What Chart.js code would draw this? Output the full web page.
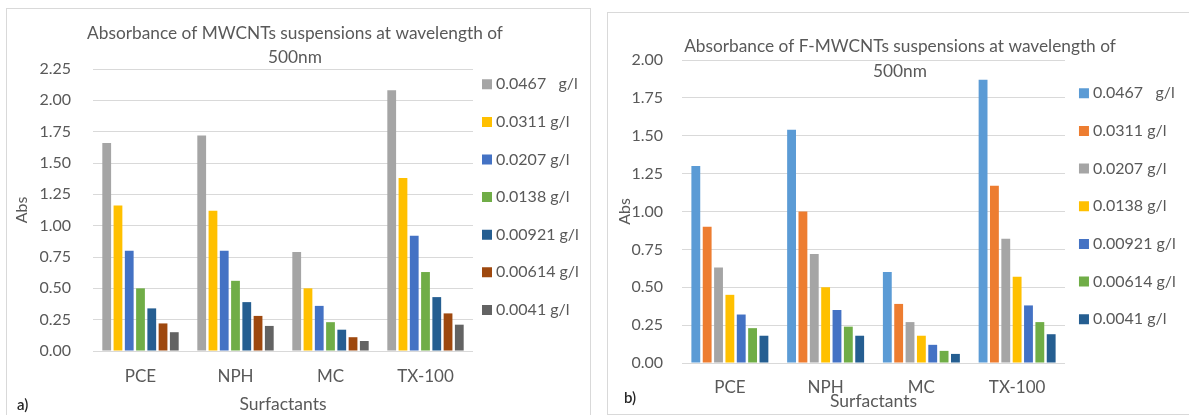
<!DOCTYPE html>
<html><head><meta charset="utf-8">
<script src="https://cdn.jsdelivr.net/npm/chart.js@4.4.1/dist/chart.umd.min.js"></script>
<style>
html,body{margin:0;padding:0;background:#fff;width:1189px;height:415px;overflow:hidden;position:relative;font-family:Lato,sans-serif}
canvas{position:absolute;top:0}
#cA{left:0}
#cB{left:598px}
.frame{position:absolute;border:1.5px solid #d9d9d9;pointer-events:none;box-sizing:border-box}
.tag{position:absolute;font:600 15px Lato,sans-serif;color:#262626;line-height:18px}
</style></head><body>
<div class="frame" style="left:6px;top:8px;width:585px;height:440px"></div>
<div class="frame" style="left:607px;top:12px;width:620px;height:403px"></div>
<canvas id="cA" width="598" height="415"></canvas>
<canvas id="cB" width="591" height="415"></canvas>
<div class="tag" style="left:17px;top:395px">a)</div>
<div class="tag" style="left:624px;top:388px">b)</div>
<script>
// ---------- data ----------
const categories = ['PCE', 'NPH', 'MC', 'TX-100'];
const seriesLabels = ['0.0467   g/l', '0.0311 g/l', '0.0207 g/l', '0.0138 g/l', '0.00921 g/l', '0.00614 g/l', '0.0041 g/l'];

// panel a) MWCNTs
const a_c0467  = [1.66, 1.72, 0.79, 2.08];
const a_c0311  = [1.16, 1.12, 0.50, 1.38];
const a_c0207  = [0.80, 0.80, 0.36, 0.92];
const a_c0138  = [0.50, 0.56, 0.23, 0.63];
const a_c00921 = [0.34, 0.39, 0.17, 0.43];
const a_c00614 = [0.22, 0.28, 0.11, 0.30];
const a_c0041  = [0.15, 0.20, 0.08, 0.21];

// panel b) F-MWCNTs
const b_c0467  = [1.30, 1.54, 0.60, 1.87];
const b_c0311  = [0.90, 1.00, 0.39, 1.17];
const b_c0207  = [0.63, 0.72, 0.27, 0.82];
const b_c0138  = [0.45, 0.50, 0.18, 0.57];
const b_c00921 = [0.32, 0.35, 0.12, 0.38];
const b_c00614 = [0.23, 0.24, 0.08, 0.27];
const b_c0041  = [0.18, 0.18, 0.06, 0.19];

const yTicksA = [0, 0.25, 0.5, 0.75, 1.0, 1.25, 1.5, 1.75, 2.0, 2.25];
const yTicksB = [0, 0.25, 0.5, 0.75, 1.0, 1.25, 1.5, 1.75, 2.0];

const titleA = ['Absorbance of MWCNTs suspensions at wavelength of', '500nm'];
const titleB = ['Absorbance of F-MWCNTs suspensions at wavelength of', '500nm'];
const xTitle = 'Surfactants';
const yTitle = 'Abs';

// ---------- styles ----------
const colorsA = ['#A5A5A5', '#FFC000', '#4472C4', '#70AD47', '#255E91', '#9E480E', '#636363'];
const colorsB = ['#5B9BD5', '#ED7D31', '#A5A5A5', '#FFC000', '#4472C4', '#70AD47', '#255E91'];
const TXT = '#595959';
const GRID = '#d9d9d9';

const fixLayout = {
  id: 'fixLayout',
  beforeLayout(chart, args, g) {
    const tb = chart.titleBlock;
    if (tb && !tb._fx) {
      const u = tb.update;
      tb.update = function (a, b, c) { u.call(this, a, b, c); this.height = g.titleH; };
      tb._fx = true;
    }
    const lg = chart.legend;
    if (lg && !lg._fx) {
      const u = lg.update;
      lg.update = function (a, b, c) { u.call(this, a, b, c); this.width = g.legendW; };
      lg._fx = true;
    }
  },
  afterLayout(chart, args, g) {
    const tb = chart.titleBlock;
    tb.left = g.titleX - 290; tb.right = g.titleX + 290; tb.width = 580;
    tb.top = 0; tb.bottom = g.titleH; tb.height = g.titleH;
    const lg = chart.legend;
    lg.left = g.legendX; lg.right = chart.width; lg.width = lg.right - lg.left;
    lg.top = g.legendY; lg.bottom = chart.height; lg.height = lg.bottom - lg.top;
  }
};

function makeChart(id, series, colors, yTicks, title, geo) {
  const datasets = series.map((data, i) => ({
    label: seriesLabels[i],
    data: data,
    backgroundColor: colors[i],
    borderWidth: 0,
    categoryPercentage: 0.83,
    barPercentage: 0.78
  }));
  return new Chart(document.getElementById(id), {
    type: 'bar',
    data: { labels: categories, datasets },
    plugins: [fixLayout],
    options: {
      responsive: false,
      animation: false,
      devicePixelRatio: 1,
      layout: { padding: 0 },
      plugins: {
        fixLayout: geo,
        tooltip: { enabled: false },
        title: {
          display: true,
          text: title,
          color: TXT,
          font: { family: 'Lato', size: geo.titleSize, weight: 'normal', lineHeight: geo.titleLH + 'px' },
          padding: { top: geo.titlePadTop, bottom: 0 }
        },
        legend: {
          display: true,
          position: 'right',
          align: 'start',
          labels: {
            color: TXT,
            font: { family: 'Lato', size: 16 },
            boxWidth: 2,
            boxHeight: 2,
            padding: geo.legendPad,
            generateLabels(chart) {
              const items = Chart.defaults.plugins.legend.labels.generateLabels(chart);
              return items.map(it => Object.assign({}, it, { lineWidth: 8, strokeStyle: it.fillStyle, lineJoin: 'miter' }));
            }
          }
        }
      },
      scales: {
        x: {
          offset: true,
          grid: { display: false, drawTicks: false },
          border: { display: false },
          ticks: { color: TXT, font: { family: 'Lato', size: 17 }, padding: geo.xTickPad, maxRotation: 0, autoSkip: false },
          title: { display: true, text: xTitle, color: TXT, font: { family: 'Lato', size: 17.5 }, padding: { top: 0, bottom: geo.xTitlePad } },
          afterFit(scale) { scale.height = geo.xH; }
        },
        y: {
          min: 0,
          max: yTicks[yTicks.length - 1],
          grid: { color: GRID, lineWidth: 1, drawTicks: false },
          border: { display: false },
          afterBuildTicks(scale) { scale.ticks = yTicks.map(v => ({ value: v })); },
          ticks: { color: TXT, font: { family: 'Lato', size: 16 }, padding: geo.yTickPad, callback: v => Number(v).toFixed(2) },
          title: { display: true, text: yTitle, color: TXT, font: { family: 'Lato', size: 16 }, padding: { top: geo.yTitlePad, bottom: 0 } },
          afterFit(scale) { scale.width = geo.yW; }
        }
      }
    }
  });
}

function draw() {
  makeChart('cA',
    [a_c0467, a_c0311, a_c0207, a_c0138, a_c00921, a_c00614, a_c0041],
    colorsA, yTicksA, titleA,
    { yW: 93, xH: 64, titleH: 69, legendW: 125, titleX: 295, titleSize: 17.3, titleLH: 24, titlePadTop: 21,
      legendX: 464.4, legendY: 54.7, legendPad: 21.6, yTickPad: 22, yTitlePad: 12.4, xTickPad: 15.8, xTitlePad: 0.5 });
  makeChart('cB',
    [b_c0467, b_c0311, b_c0207, b_c0138, b_c00921, b_c00614, b_c0041],
    colorsB, yTicksB, titleB,
    { yW: 84, xH: 52, titleH: 60, legendW: 124, titleX: 302, titleSize: 17.3, titleLH: 25, titlePadTop: 33.5,
      legendX: 463.3, legendY: 63.6, legendPad: 21.67, yTickPad: 19, yTitlePad: 17.4, xTickPad: 14.8, xTitlePad: 2.8 });
}
if (document.fonts && document.fonts.load) {
  Promise.all([document.fonts.load('16px Lato'), document.fonts.load('600 15px Lato')]).then(draw, draw);
} else { draw(); }
</script>
</body></html>
